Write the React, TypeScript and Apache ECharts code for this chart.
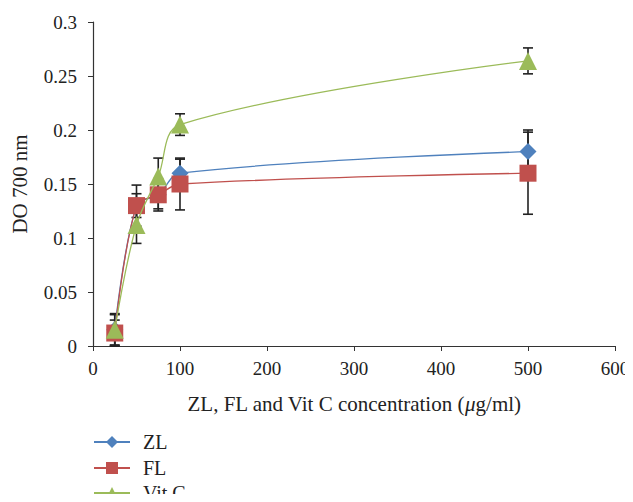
import React, { useEffect, useRef } from "react";
import * as echarts from "echarts";

const concentrations = [25, 50, 75, 100, 500];
const zlValues = [0.015, 0.13, 0.14, 0.16, 0.18];
const zlErrors = [0.015, 0.011, 0.015, 0.013, 0.02];
const flValues = [0.012, 0.13, 0.14, 0.15, 0.16];
const flErrors = [0.012, 0.019, 0.013, 0.024, 0.038];
const vitcValues = [0.015, 0.112, 0.157, 0.205, 0.264];
const vitcErrors = [0.014, 0.017, 0.017, 0.01, 0.012];
const legendNames = ["ZL", "FL", "Vit C"];

const COLORS = { zl: "#4F81BD", fl: "#C0504D", vitc: "#9BBB59" };
const FONT = "Liberation Serif";

function errData(vals: number[], errs: number[]) {
  return concentrations.map((x, i) => [x, vals[i] - errs[i], vals[i] + errs[i]]);
}

function errorSeries(name: string, vals: number[], errs: number[]) {
  return {
    type: "custom",
    name: name + "-err",
    z: 1,
    silent: true,
    data: errData(vals, errs),
    encode: { x: 0, y: [1, 2] },
    renderItem: (params: any, api: any) => {
      const x = api.value(0);
      const lo = api.coord([x, Math.max(0, api.value(1))]);
      const hi = api.coord([x, api.value(2)]);
      const w = 5;
      const style = { stroke: "#222", lineWidth: 1.6 };
      return {
        type: "group",
        children: [
          { type: "line", shape: { x1: lo[0], y1: lo[1], x2: hi[0], y2: hi[1] }, style },
          { type: "line", shape: { x1: lo[0] - w, y1: lo[1], x2: lo[0] + w, y2: lo[1] }, style },
          { type: "line", shape: { x1: hi[0] - w, y1: hi[1], x2: hi[0] + w, y2: hi[1] }, style },
        ],
      };
    },
  };
}

function lineSeries(name: string, vals: number[], color: string, symbol: string, size: number, z: number) {
  return {
    type: "line",
    name,
    z,
    smooth: 0.35,
    data: concentrations.map((x, i) => [x, vals[i]]),
    symbol,
    symbolSize: size,
    showSymbol: true,
    lineStyle: { color, width: 1.3 },
    itemStyle: { color, borderColor: color, borderWidth: 0 },
  };
}

const legendTops = [432, 458, 483];

export default function App() {
  const ref = useRef<HTMLDivElement>(null);
  useEffect(() => {
    if (!ref.current) return;
    const chart = echarts.init(ref.current, null, { renderer: "svg" });
    chart.setOption({
      animation: false,
      textStyle: { fontFamily: FONT },
      grid: { left: 93, right: 18, top: 22, bottom: 156, containLabel: false },
      xAxis: {
        type: "value",
        min: 0,
        max: 600,
        interval: 100,
        splitLine: { show: false },
        axisLine: { lineStyle: { color: "#333", width: 1.2 } },
        axisTick: { show: true, length: 5, lineStyle: { color: "#333" } },
        axisLabel: { color: "#222", fontSize: 19, fontFamily: FONT, margin: 13 },
        name: "{n|ZL, FL and Vit C concentration (}{i|μ}{n|g/ml)}",
        nameLocation: "middle",
        nameGap: 47,
        nameTextStyle: {
          rich: {
            n: { fontSize: 21, fontFamily: FONT, color: "#222" },
            i: { fontSize: 21, fontFamily: FONT, color: "#222", fontStyle: "italic" },
          },
        },
      },
      yAxis: {
        type: "value",
        min: 0,
        max: 0.3,
        interval: 0.05,
        splitLine: { show: false },
        axisLine: { show: true, lineStyle: { color: "#333", width: 1.2 } },
        axisTick: { show: true, length: 5, lineStyle: { color: "#333" } },
        axisLabel: {
          color: "#222",
          fontSize: 19,
          fontFamily: FONT,
          margin: 16,
          formatter: (v: number) => String(parseFloat(v.toFixed(2))),
        },
        name: "DO 700 nm",
        nameLocation: "middle",
        nameGap: 63,
        nameTextStyle: { fontSize: 21, fontFamily: FONT, color: "#222" },
      },
      legend: legendNames.map((n, i) => ({
        orient: "horizontal",
        left: 93,
        top: legendTops[i],
        padding: 0,
        itemWidth: 36,
        itemHeight: 15,
        data: [n],
        textStyle: { fontSize: 20, lineHeight: 18, fontFamily: FONT, color: "#222", padding: [0, 0, 0, 8] },
      })),
      series: [
        errorSeries("ZL", zlValues, zlErrors),
        errorSeries("FL", flValues, flErrors),
        errorSeries("Vit C", vitcValues, vitcErrors),
        lineSeries("ZL", zlValues, COLORS.zl, "diamond", 17, 3),
        lineSeries("FL", flValues, COLORS.fl, "rect", 17, 4),
        lineSeries("Vit C", vitcValues, COLORS.vitc, "triangle", 18, 5),
      ],
    });
    return () => chart.dispose();
  }, []);
  return <div ref={ref} style={{ width: 633, height: 502, margin: -8 }} />;
}
